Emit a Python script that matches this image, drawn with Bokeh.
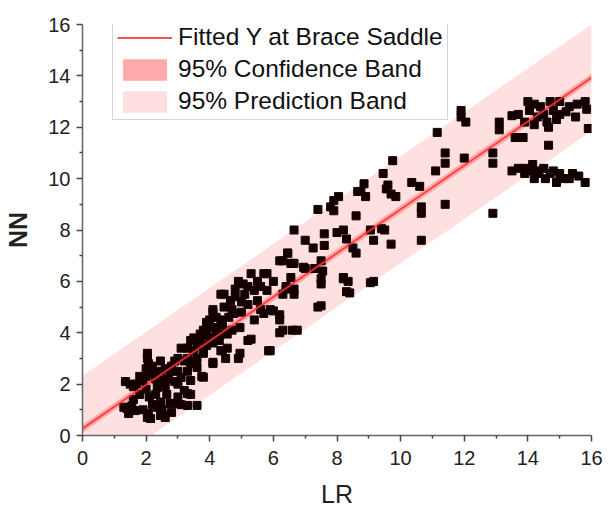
from bokeh.plotting import figure
from bokeh.models import Range1d, Legend, LegendItem, FixedTicker
from bokeh.embed import file_html
from bokeh.resources import INLINE

# ---- data ----
lr = [
    # low cluster
    1.45, 2.04, 2.55, 3.6, 1.5, 2.04, 2.45, 3.1, 3.4, 3.8,
    1.4, 1.65, 2.07, 2.14, 2.45, 2.6, 2.04, 2.07, 1.9, 1.7,
    1.8, 2.1, 2.35, 2.55, 2.75, 3.0, 3.7, 4.0, 4.35, 4.55,
    4.5, 4.1, 3.75, 3.4, 3.2, 3.0, 2.75, 2.45, 2.65, 3.4,
    3.3, 3.0, 2.9, 3.5, 3.8, 3.6, 3.3, 3.1, 2.25, 2.45,
    2.9, 2.35, 3.3, 3.8, 1.3, 1.6, 1.9, 2.2, 2.8, 1.35,
    1.6, 2.0, 2.3, 2.6, 2.9, 3.2, 2.2, 2.8, 3.5, 2.0,
    1.8, 2.5, 3.1, 1.55, 2.3, 2.7, 3.0, 3.3, 3.6, 2.0,
    2.6, 3.4,
    # middle
    3.3, 3.5, 3.8, 4.0, 4.1, 4.45, 4.65, 4.75, 4.55, 4.95,
    5.05, 5.3, 5.4, 5.2, 5.5, 5.8, 5.8, 5.7, 6.0, 6.2,
    6.45, 6.65, 6.55, 6.65, 6.3, 6.95, 6.2, 6.3, 6.75, 5.9,
    5.3, 4.95, 4.35, 4.1, 3.8, 4.45, 4.35, 3.7, 4.1, 4.35,
    4.9, 5.7, 6.4, 6.6, 7.3, 7.5, 7.4, 8.2, 8.3, 9.05,
    5.2, 5.85, 6.2, 6.6, 4.9, 4.4, 5.6, 5.9, 6.2, 5.4,
    4.1, 3.9, 4.2, 4.6, 4.8, 5.0, 4.3, 3.6, 3.9, 5.1,
    4.7, 5.6, 6.0, 3.9, 4.2, 4.4, 4.7, 5.0, 4.0, 4.2,
    4.8, 5.2, 5.5,
    # upper middle
    7.4, 7.9, 8.05, 7.9, 8.75, 8.85, 8.6, 6.65, 7.0, 7.25,
    7.6, 7.6, 8.0, 8.2, 8.3, 8.5, 8.6, 9.05, 9.15, 9.5,
    9.7, 6.45, 6.55, 6.3, 7.0, 7.5, 7.55, 7.5, 8.2, 8.35,
    8.4, 9.15, 7.5, 6.65, 6.4, 7.8, 8.9, 9.4, 8.65,
    9.75, 9.45, 9.55, 9.7, 9.85, 9.6, 10.35, 10.6, 10.65, 10.65,
    10.65, 11.1, 11.4, 11.4, 11.4, 11.15, 12.0, 12.9, 12.9, 12.9,
    13.1, 13.1, 12.05, 11.9, 11.9,
    # upper-right cluster
    13.5, 13.7, 14.0, 14.05, 14.2, 14.3, 14.4, 14.5, 14.6, 14.7,
    14.8, 14.9, 15.0, 15.0, 15.2, 15.3, 15.5, 15.55, 15.8, 15.85,
    13.9, 14.2, 14.65, 15.9, 14.65, 13.85, 13.6,
    # lower-right cluster
    13.5, 13.7, 13.9, 13.9, 14.15, 14.2, 14.35, 14.5, 14.55, 14.7,
    14.8, 14.9, 15.0, 15.1, 15.3, 15.4, 15.6, 15.8, 14.3, 14.05,
]
nn = [
    0.86, 0.70, 0.78, 1.17, 2.0, 3.0, 2.9, 3.4, 3.7, 4.0,
    1.05, 0.97, 0.86, 0.66, 0.78, 0.7, 3.2, 2.8, 2.14, 2.0,
    1.6, 1.5, 1.87, 2.14, 2.5, 3.0, 3.95, 3.8, 3.95, 3.4,
    3.0, 2.8, 2.3, 2.14, 1.75, 1.5, 1.25, 1.3, 1.6, 1.6,
    1.17, 2.0, 2.9, 2.9, 3.2, 2.65, 2.5, 2.26, 2.4, 2.5,
    1.25, 1.1, 1.63, 2.27, 1.1, 1.4, 1.0, 1.2, 0.9, 2.1,
    1.9, 2.3, 1.6, 1.9, 2.1, 2.9, 2.7, 2.7, 3.3, 1.8,
    2.3, 1.0, 1.2, 1.15, 2.2, 2.2, 2.5, 3.0, 3.0, 2.6,
    2.6, 2.8,
    3.4, 3.8, 4.1, 4.5, 4.8, 5.5, 5.25, 4.75, 3.95, 4.2,
    5.9, 6.3, 5.65, 5.1, 5.25, 6.3, 5.65, 4.75, 4.85, 6.8,
    7.1, 6.7, 6.15, 5.5, 5.5, 6.55, 4.5, 4.1, 4.1, 3.3,
    3.75, 3.2, 3.3, 3.6, 3.3, 5.0, 4.5, 3.7, 4.9, 5.5,
    6.0, 6.3, 5.8, 6.7, 6.5, 5.9, 5.0, 6.1, 5.6, 5.95,
    3.7, 3.3, 4.0, 4.1, 3.0, 3.3, 4.9, 4.9, 4.7, 4.5,
    2.85, 4.4, 4.2, 4.6, 5.4, 4.8, 3.7, 3.5, 3.9, 5.5,
    4.1, 5.8, 6.0, 3.5, 3.9, 4.3, 4.9, 5.2, 4.2, 4.6,
    5.7, 5.8, 6.0,
    8.8, 9.15, 9.3, 8.75, 9.5, 9.8, 8.55, 8.0, 7.6, 7.3,
    7.85, 7.4, 7.9, 8.0, 7.65, 7.3, 7.1, 8.0, 7.6, 8.0,
    7.45, 7.1, 6.7, 6.8, 6.5, 6.8, 6.4, 6.1, 6.15, 6.0,
    5.55, 6.0, 5.05, 5.7, 5.7, 8.9, 9.3, 8.05, 9.5,
    10.7, 10.2, 9.6, 9.4, 9.3, 9.75, 9.85, 9.7, 8.9, 8.65,
    7.6, 10.3, 11.0, 10.6, 9.0, 11.8, 10.8, 11.0, 10.6, 8.65,
    12.2, 11.9, 12.2, 12.65, 12.4,
    12.45, 12.5, 13.0, 12.65, 12.9, 12.4, 12.8, 12.5, 12.2, 13.0,
    12.65, 12.3, 13.0, 12.5, 12.6, 12.8, 12.4, 12.9, 13.0, 12.7,
    12.2, 12.1, 12.0, 11.95, 11.3, 11.6, 11.6,
    10.3, 10.4, 10.4, 10.2, 10.55, 10.0, 10.3, 10.4, 10.0, 10.2,
    10.3, 9.85, 10.2, 10.0, 10.0, 10.2, 10.1, 9.85, 10.2, 10.3,
]

fit_x = [0, 16]
fit_y = [0.27, 13.93]
conf_lo = [0.12, 13.78]
conf_hi = [0.42, 14.08]
pred_lo = [-1.85, 11.85]
pred_hi = [2.33, 16.0]

x_ticks = [0, 2, 4, 6, 8, 10, 12, 14, 16]
y_ticks = [0, 2, 4, 6, 8, 10, 12, 14, 16]

FONT = "Liberation Sans"

p = figure(width=611, height=516, output_backend="svg", toolbar_location=None,
           x_range=Range1d(0, 16), y_range=Range1d(0, 16),
           min_border_left=82, min_border_right=20, min_border_top=24,
           min_border_bottom=81)
p.outline_line_color = None
p.xgrid.visible = False
p.ygrid.visible = False
p.background_fill_color = "white"

r_pred = p.varea(x=fit_x, y1=pred_lo, y2=pred_hi, fill_color="#ffe0e0", fill_alpha=1.0)
r_conf = p.varea(x=fit_x, y1=conf_lo, y2=conf_hi, fill_color="#ffaaaa", fill_alpha=1.0)
p.scatter(lr, nn, marker="square", size=8, fill_color="#140000", line_color="#140000")
r_line = p.line(fit_x, fit_y, line_color="#ff3030", line_width=2, line_alpha=0.85)

for ax, ticks in ((p.xaxis[0], x_ticks), (p.yaxis[0], y_ticks)):
    ax.ticker = FixedTicker(ticks=ticks, minor_ticks=[t + 1 for t in ticks[:-1]])
    ax.axis_line_color = "#666666"
    ax.axis_line_width = 1.5
    ax.major_tick_line_color = "#444444"
    ax.major_tick_line_width = 1.5
    ax.minor_tick_line_color = "#444444"
    ax.minor_tick_line_width = 1.5
    ax.major_tick_out = 6
    ax.major_tick_in = 0
    ax.minor_tick_out = 3
    ax.minor_tick_in = 0
    ax.major_label_text_font = FONT
    ax.major_label_text_font_size = "20px"
    ax.major_label_text_color = "#222222"
    ax.axis_label_text_font = FONT
    ax.axis_label_text_font_size = "25px"
    ax.axis_label_text_color = "#222222"

p.xaxis.axis_label = "LR"
p.xaxis.axis_label_text_font_style = "normal"
p.xaxis.major_label_standoff = 9
p.xaxis.axis_label_standoff = 12
p.yaxis.axis_label = "NN"
p.yaxis.axis_label_text_font_style = "bold"
p.yaxis.major_label_standoff = 6
p.yaxis.axis_label_standoff = 13

legend = Legend(items=[
    LegendItem(label="Fitted Y at Brace Saddle", renderers=[r_line]),
    LegendItem(label="95% Confidence Band", renderers=[r_conf]),
    LegendItem(label="95% Prediction Band", renderers=[r_pred]),
], location=(30, 315))
legend.label_text_font = FONT
legend.label_text_font_size = "24.5px"
legend.label_text_color = "#111111"
legend.glyph_width = 55
legend.glyph_height = 27
legend.label_height = 27
legend.spacing = 4
legend.padding = 4
legend.margin = 0
legend.label_standoff = 6
legend.border_line_color = "#aaaaaa"
legend.border_line_width = 1.5
legend.background_fill_color = "white"
legend.background_fill_alpha = 1.0
p.add_layout(legend, "center")

open("out.html", "w").write(file_html(p, INLINE))
